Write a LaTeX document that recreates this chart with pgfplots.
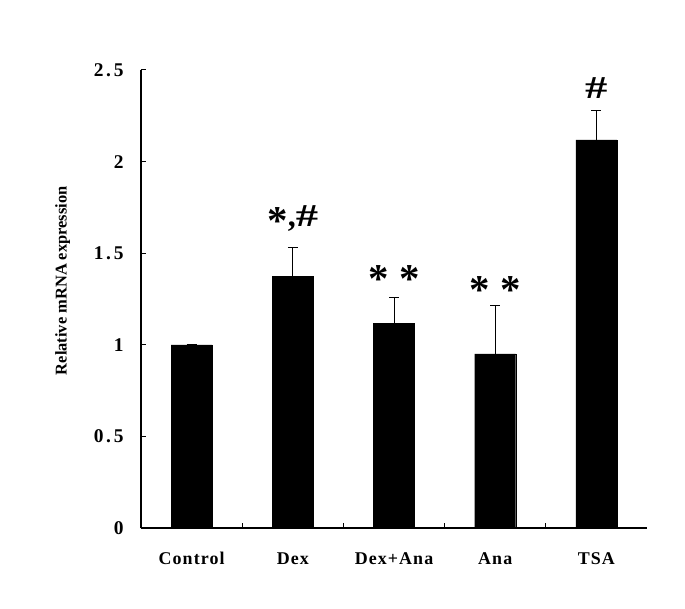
\documentclass[border=0pt]{standalone}
\usepackage{fontspec}
\setmainfont{Liberation Serif}
\newfontfamily\tickfont[LetterSpace=14]{Liberation Serif}
\newfontfamily\catfont[LetterSpace=6]{Liberation Serif}
\usepackage{pgfplots}
\pgfplotsset{compat=1.18}
\newcommand{\bigast}{\fontsize{41}{41}\selectfont\bfseries *}
\newcommand{\hash}{\scalebox{1.4}[1]{\fontsize{32}{32}\selectfont\bfseries\#}}
\begin{document}
\begin{tikzpicture}
\begin{axis}[
  scale only axis, width=506bp, height=458bp,
  xmin=-0.5, xmax=4.5, ymin=0, ymax=2.5,
  axis x line*=bottom, axis y line*=left,
  axis line style={line width=1.2bp, black},
  xtick={0,1,2,3,4},
  xticklabels={Control,Dex,Dex+Ana,Ana,TSA},
  major x tick style={draw=none},
  minor xtick={0.5,1.5,2.5,3.5},
  minor tick length=5bp,
  major tick length=5bp,
  ytick={0,0.5,1,1.5,2,2.5},
  tick align=inside,
  tick style={line width=1bp, black},
  yticklabel style={/pgf/number format/fixed, /pgf/number format/assume math mode=true,
    font=\tickfont\fontsize{19.5}{19.5}\selectfont\bfseries, xshift=-14bp},
  xticklabel style={font=\catfont\fontsize{18}{18}\selectfont\bfseries, yshift=-21bp},
  ylabel={Relative mRNA expression},
  ylabel style={font=\fontsize{16.5}{16.5}\selectfont\bfseries, at={(axis description cs:-0.155,0.54)}, anchor=center},
  clip=false,
]
\addplot[ybar, bar width=41bp, fill=black, draw=black,
  error bars/.cd, y dir=plus, y explicit,
  error bar style={line width=1bp, black},
  error mark options={rotate=90, mark size=5bp, line width=1bp, black}]
  coordinates {
    (0,1.000) +- (0,0)
    (1,1.375) +- (0,0.157)
    (2,1.117) +- (0,0.142)
    (3,0.950) +- (0,0.267)
    (4,2.118) +- (0,0.160)
  };
\node[anchor=base, inner sep=0pt] at (axis cs:1,1.648)
  {\raisebox{-8bp}{\bigast}{\fontsize{32}{32}\selectfont\bfseries,}\hash};
\node[anchor=base, inner sep=0pt] at (axis cs:2,1.288) {\bigast\hskip 11bp\bigast};
\node[anchor=base, inner sep=0pt] at (axis cs:3,1.223) {\bigast\hskip 11bp\bigast};
\node[anchor=base, inner sep=0pt] at (axis cs:4,2.347) {\hash};
\end{axis}
\useasboundingbox ([xshift=-141bp,yshift=-81bp]current axis.south west) rectangle ([xshift=38bp,yshift=70bp]current axis.north east);
\end{tikzpicture}
\end{document}
